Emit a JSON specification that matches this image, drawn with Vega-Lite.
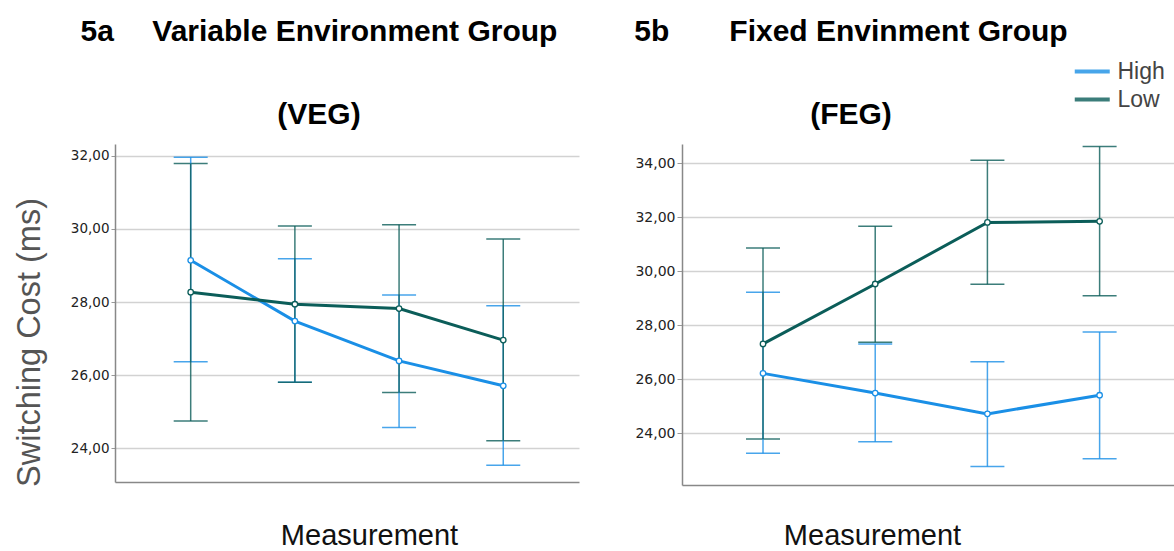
{
  "$schema": "https://vega.github.io/schema/vega-lite/v6.json",
  "background": "white",
  "padding": {"left": 13, "top": 17, "right": 0, "bottom": 0},
  "spacing": 55,
  "datasets": {
    "veg": [
      {"level": "High", "m": 1, "mean": 29.14, "lo": 26.37, "hi": 31.96},
      {"level": "High", "m": 2, "mean": 27.48, "lo": 25.81, "hi": 29.18},
      {"level": "High", "m": 3, "mean": 26.39, "lo": 24.57, "hi": 28.19},
      {"level": "High", "m": 4, "mean": 25.71, "lo": 23.54, "hi": 27.90},
      {"level": "Low", "m": 1, "mean": 28.27, "lo": 24.75, "hi": 31.79},
      {"level": "Low", "m": 2, "mean": 27.94, "lo": 25.81, "hi": 30.08},
      {"level": "Low", "m": 3, "mean": 27.82, "lo": 25.53, "hi": 30.11},
      {"level": "Low", "m": 4, "mean": 26.96, "lo": 24.21, "hi": 29.72}
    ],
    "feg": [
      {"level": "High", "m": 1, "mean": 26.22, "lo": 23.26, "hi": 29.22},
      {"level": "High", "m": 2, "mean": 25.49, "lo": 23.69, "hi": 27.31},
      {"level": "High", "m": 3, "mean": 24.72, "lo": 22.77, "hi": 26.65},
      {"level": "High", "m": 4, "mean": 25.41, "lo": 23.06, "hi": 27.75},
      {"level": "Low", "m": 1, "mean": 27.31, "lo": 23.79, "hi": 30.86},
      {"level": "Low", "m": 2, "mean": 29.53, "lo": 27.37, "hi": 31.67},
      {"level": "Low", "m": 3, "mean": 31.81, "lo": 29.52, "hi": 34.11},
      {"level": "Low", "m": 4, "mean": 31.85, "lo": 29.09, "hi": 34.62}
    ]
  },
  "config": {
    "view": {"stroke": null},
    "axis": {
      "gridColor": "#d2d2d2",
      "gridWidth": 1.5,
      "domainColor": "#888888",
      "domainWidth": 1.5,
      "tickColor": "#999999",
      "labelFont": "DejaVu Sans",
      "labelColor": "#222222"
    },
    "legend": {
      "title": null,
      "symbolType": "M-1,0H3",
      "symbolSize": 306,
      "symbolStrokeWidth": 4,
      "labelFont": "Liberation Sans",
      "labelFontSize": 23,
      "labelColor": "#444444",
      "labelOffset": 22.5,
      "rowPadding": 4
    },
    "title": {
      "font": "Liberation Sans",
      "fontSize": 30,
      "fontWeight": "bold",
      "color": "#000000",
      "subtitleFont": "Liberation Sans",
      "subtitleFontSize": 30,
      "subtitleFontWeight": "bold",
      "subtitleColor": "#000000",
      "subtitlePadding": 53,
      "offset": 14,
      "anchor": "middle"
    }
  },
  "resolve": {"scale": {"color": "shared", "x": "independent", "y": "independent"}, "legend": {"color": "shared"}},
  "hconcat": [
    {
      "width": 464,
      "height": 338,
      "title": {"text": "5a\u2003 Variable Environment Group", "subtitle": "(VEG)\u2009\u2009", "dx": -28},
      "data": {"name": "veg"},
      "encoding": {
        "x": {
          "field": "m", "type": "quantitative",
          "scale": {"domain": [0.2735, 4.727], "nice": false, "zero": false},
          "axis": {
            "title": "Measurement", "labels": false, "ticks": false, "grid": false,
            "titleFont": "Liberation Sans", "titleFontSize": 29, "titleFontWeight": "normal", "titleColor": "#111111",
            "titleX": 254, "titleY": 62, "titleBaseline": "alphabetic", "titleAlign": "center"
          }
        },
        "color": {
          "field": "level", "type": "nominal",
          "scale": {"domain": ["High", "Low"], "range": ["#1a8fe6", "#0b5d59"]},
          "legend": {"orient": "none", "legendX": 957, "legendY": -84}
        }
      },
      "layer": [
        {
          "mark": {"type": "errorbar", "ticks": {"size": 34, "thickness": 1.5}, "thickness": 1.5, "opacity": 0.8},
          "encoding": {
            "y": {
              "field": "lo", "type": "quantitative", "title": "Switching Cost (ms)",
              "scale": {"domain": [23.08, 32.32], "nice": false, "zero": false},
              "axis": {
                "values": [24, 26, 28, 30, 32],
                "labelExpr": "replace(format(datum.value, '.2f'), '.', ',')",
                "labelFontSize": 13.5, "tickSize": 4, "labelPadding": 2, "grid": true,
                "titleFont": "Liberation Sans", "titleFontSize": 32.5, "titleFontWeight": "normal", "titleColor": "#555555",
                "titleX": -76, "titleY": 198, "titleAngle": -90, "titleBaseline": "alphabetic", "titleAlign": "center"
              }
            },
            "y2": {"field": "hi"}
          }
        },
        {
          "mark": {"type": "line", "strokeWidth": 3},
          "encoding": {
            "y": {"field": "mean", "type": "quantitative", "title": "Switching Cost (ms)"}
          }
        },
        {
          "mark": {"type": "point", "filled": false, "fill": "white", "size": 30, "strokeWidth": 1.3, "opacity": 1},
          "encoding": {
            "y": {"field": "mean", "type": "quantitative", "title": "Switching Cost (ms)"}
          }
        }
      ]
    },
    {
      "width": 492,
      "height": 341,
      "title": {"text": "5b\u2003\u2003Fixed Envinment Group", "subtitle": "\u2009\u2009\u2009(FEG)", "dx": -77},
      "data": {"name": "feg"},
      "encoding": {
        "x": {
          "field": "m", "type": "quantitative",
          "scale": {"domain": [0.278, 4.663], "nice": false, "zero": false},
          "axis": {
            "title": "Measurement", "labels": false, "ticks": false, "grid": false,
            "titleFont": "Liberation Sans", "titleFontSize": 29, "titleFontWeight": "normal", "titleColor": "#111111",
            "titleX": 190, "titleY": 59, "titleBaseline": "alphabetic", "titleAlign": "center"
          }
        },
        "color": {
          "field": "level", "type": "nominal",
          "scale": {"domain": ["High", "Low"], "range": ["#1a8fe6", "#0b5d59"]},
          "legend": {"orient": "none", "legendX": 957, "legendY": -84}
        }
      },
      "layer": [
        {
          "mark": {"type": "errorbar", "ticks": {"size": 34, "thickness": 1.5}, "thickness": 1.5, "opacity": 0.8},
          "encoding": {
            "y": {
              "field": "lo", "type": "quantitative", "title": null,
              "scale": {"domain": [22.085, 34.715], "nice": false, "zero": false},
              "axis": {
                "title": null,
                "values": [24, 26, 28, 30, 32, 34],
                "labelExpr": "replace(format(datum.value, '.2f'), '.', ',')",
                "labelFontSize": 14, "tickSize": 5, "labelPadding": 2, "grid": true
              }
            },
            "y2": {"field": "hi"}
          }
        },
        {
          "mark": {"type": "line", "strokeWidth": 3},
          "encoding": {
            "y": {"field": "mean", "type": "quantitative", "title": null}
          }
        },
        {
          "mark": {"type": "point", "filled": false, "fill": "white", "size": 30, "strokeWidth": 1.3, "opacity": 1},
          "encoding": {
            "y": {"field": "mean", "type": "quantitative", "title": null}
          }
        }
      ]
    }
  ]
}
